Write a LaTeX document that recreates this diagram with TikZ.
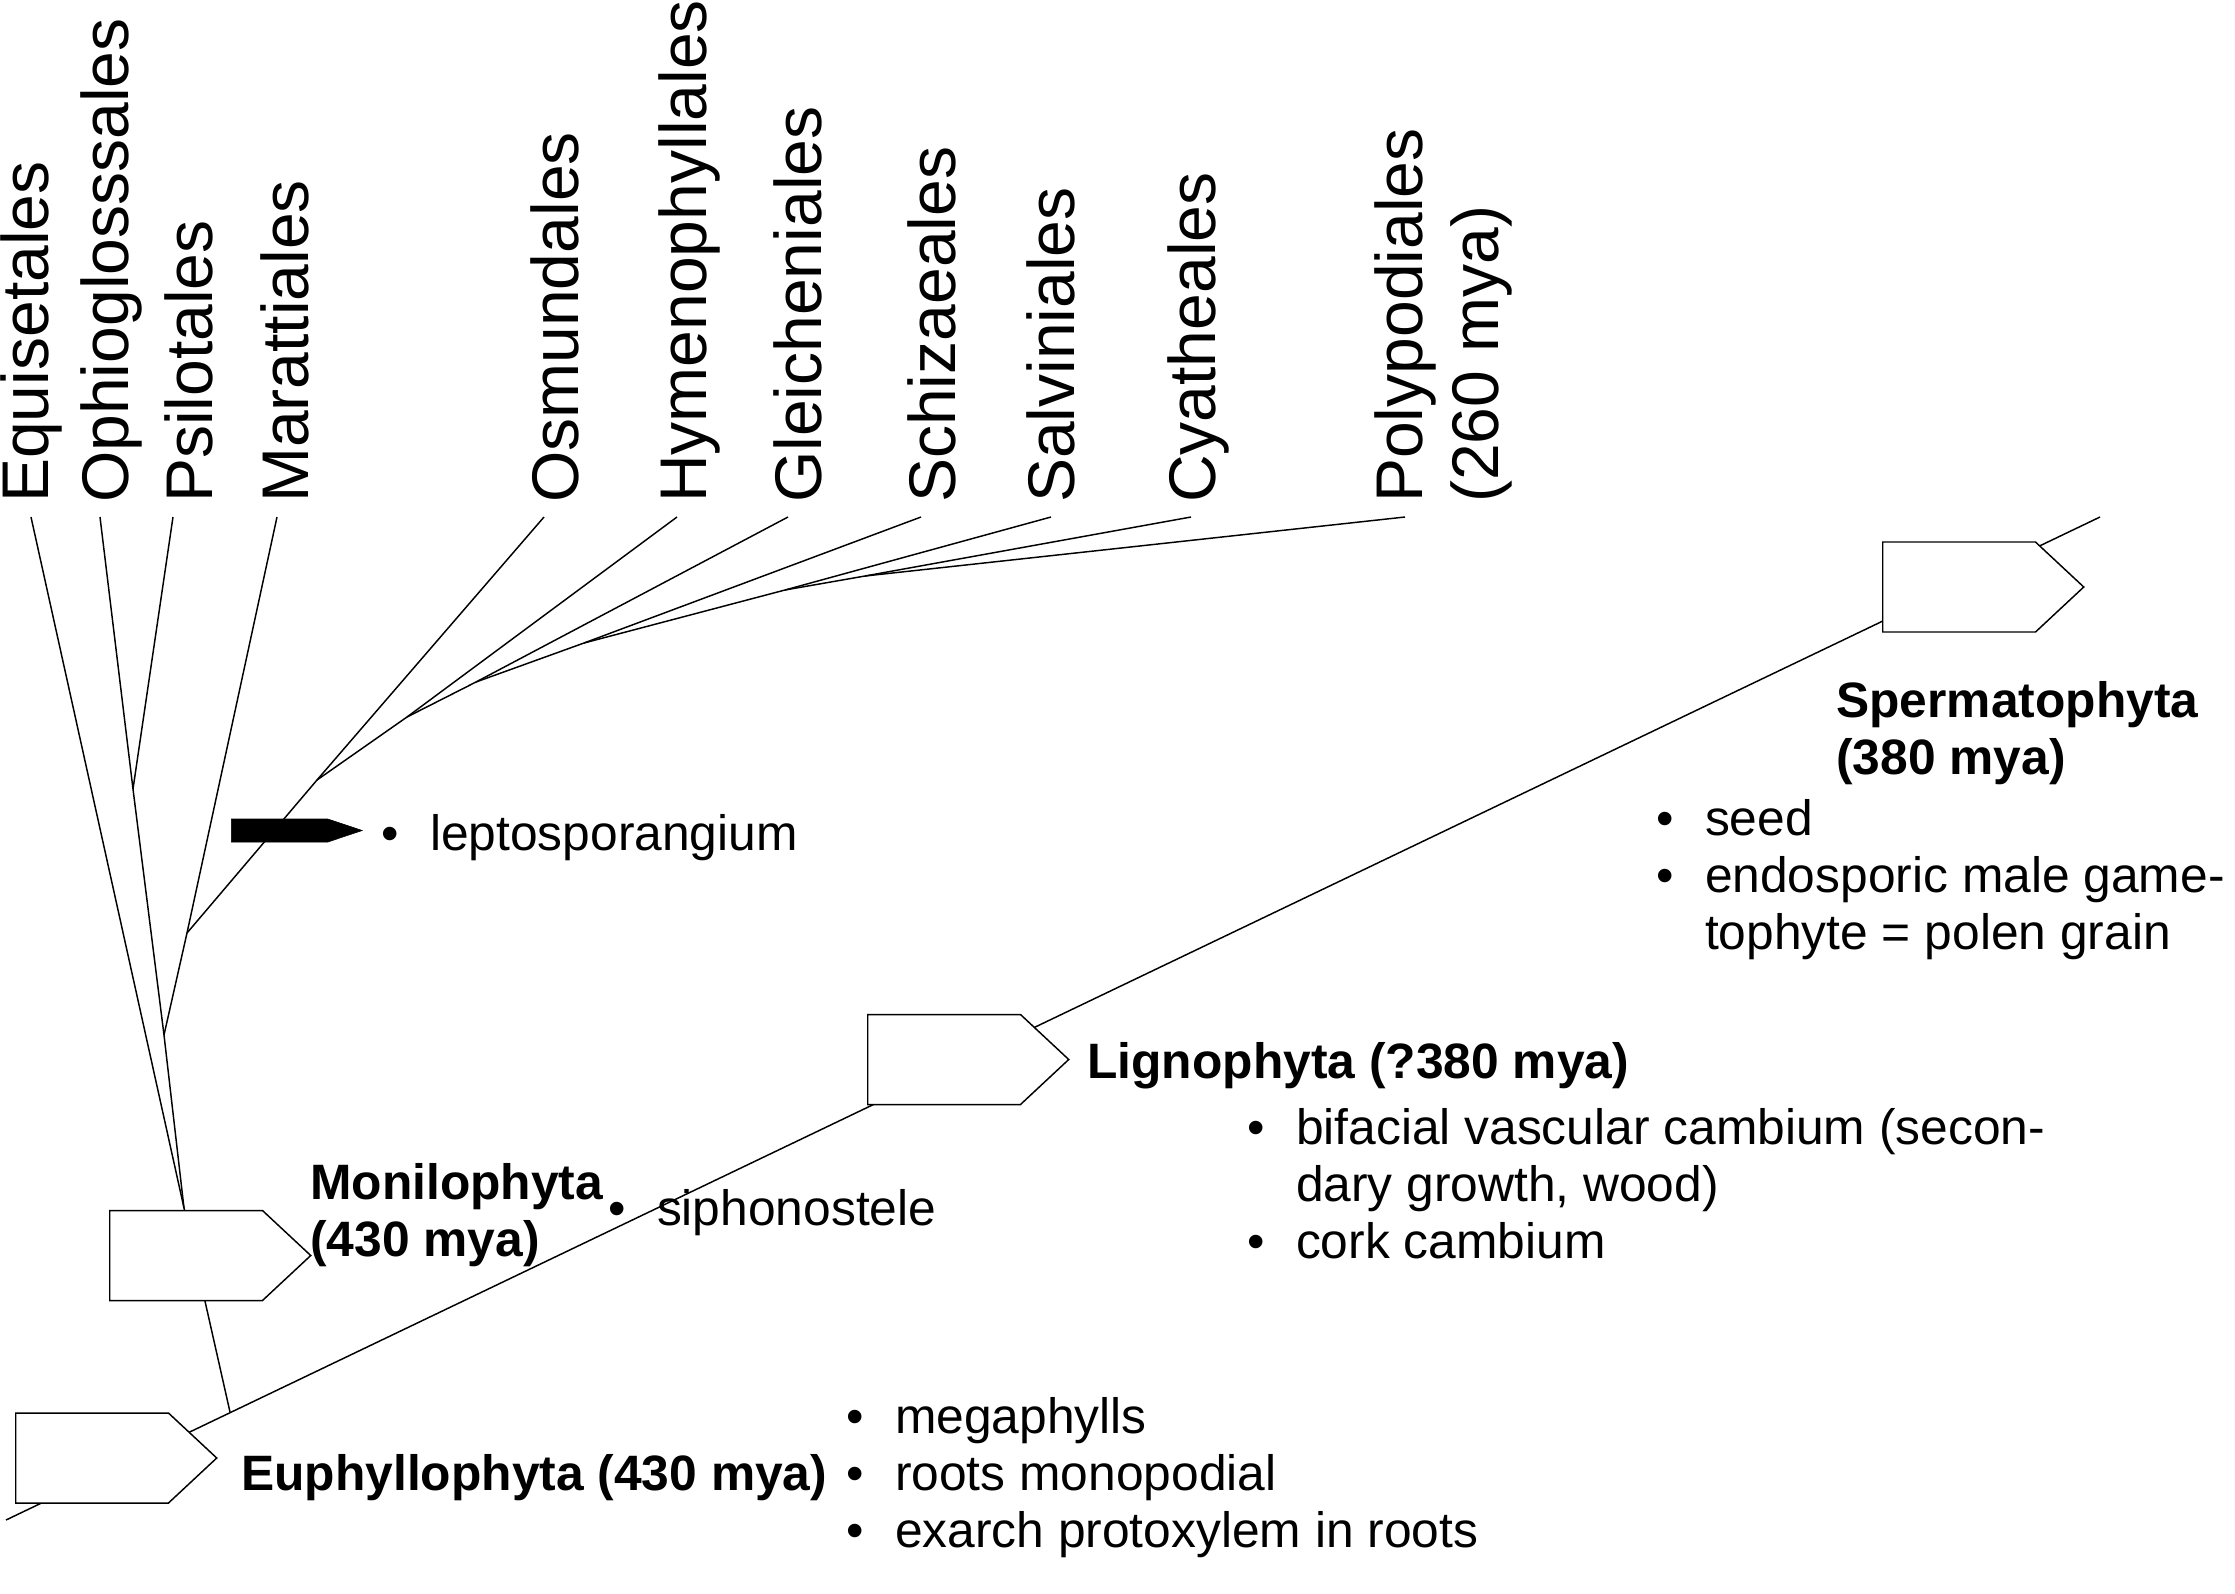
\documentclass[tikz,border=0pt]{standalone}
\usepackage{fontspec}
\setmainfont{Liberation Sans}
\usetikzlibrary{shapes.symbols}

\newcommand{\txtfont}{\fontsize{37.3}{42.75}\selectfont}
\newcommand{\taxfont}{\fontsize{49.5}{57}\selectfont}
\newcommand{\traitlist}[1]{\begin{tabular}[t]{@{}l@{\hspace{23.5pt}}l@{}}#1\end{tabular}}
\newcommand{\twolines}[2]{\begin{tabular}[t]{@{}l@{}}#1\\#2\end{tabular}}

\tikzset{
  branch/.style={line width=1.1pt},
  clade/.style={draw, fill=white, line width=1.1pt, shape=signal, signal to=east,
    signal pointer angle=86, minimum width=150.75pt, minimum height=67.5pt,
    inner sep=0pt, anchor=west},
  apomorphy/.style={draw, fill=black, shape=signal, signal to=east,
    signal pointer angle=37, minimum width=98.25pt, minimum height=17.25pt,
    inner sep=0pt, anchor=west},
  taxon/.style={rotate=90, anchor=base west, inner sep=0pt, font=\taxfont},
  cladename/.style={anchor=base west, inner sep=0pt, font=\txtfont\bfseries},
  traits/.style={anchor=base west, inner sep=0pt, font=\txtfont},
}

\begin{document}
\begin{tikzpicture}[x=0.75pt,y=0.75pt,yscale=-1,xscale=1]
\useasboundingbox (0,0) rectangle (2235,1593);

% junctions
\coordinate (root) at (6,1520);
\coordinate (euJ) at (230,1412);
\coordinate (spTop) at (2100,517);
\coordinate (moJ) at (184,1208);
\coordinate (aJ) at (164,1035);
\coordinate (bJ) at (133,789);
\coordinate (cJ) at (187,933);
\coordinate (dJ) at (317,780);
\coordinate (eJ) at (407,717);
\coordinate (fJ) at (476,682);
\coordinate (gJ) at (584,643);
\coordinate (hJ) at (785,590);
\coordinate (iJ) at (865,576);
% branch tips
\coordinate (equTip) at (31,517);
\coordinate (ophTip) at (100,517);
\coordinate (psiTip) at (173,517);
\coordinate (marTip) at (277,517);
\coordinate (osmTip) at (544,517);
\coordinate (hymTip) at (677,517);
\coordinate (gleTip) at (788,517);
\coordinate (schTip) at (921,517);
\coordinate (salTip) at (1051,517);
\coordinate (cyaTip) at (1191,517);
\coordinate (polTip) at (1405,517);

%Straight Lines
\draw[branch] (root) -- (spTop);
\draw[branch] (euJ) -- (moJ) -- (equTip);
\draw[branch] (moJ) -- (aJ) -- (bJ) -- (ophTip);
\draw[branch] (bJ) -- (psiTip);
\draw[branch] (aJ) -- (cJ) -- (marTip);
\draw[branch] (cJ) -- (dJ) -- (osmTip);
\draw[branch] (dJ) -- (eJ) -- (hymTip);
\draw[branch] (eJ) -- (fJ) -- (gleTip);
\draw[branch] (fJ) -- (gJ) -- (schTip);
\draw[branch] (gJ) -- (hJ) -- (salTip);
\draw[branch] (hJ) -- (iJ) -- (cyaTip);
\draw[branch] (iJ) -- (polTip);

%Shape: Pentagons
\node[clade] (euph) at (15,1458) {};
\node[clade] (moni) at (109,1255.5) {};
\node[clade] (ligno) at (867,1059.5) {};
\node[clade] (sperm) at (1882,587) {};
\node[apomorphy] (lepto) at (231,830.5) {};

% Taxon names
\node[taxon] (equ) at (48,503) {Equisetales};
\node[taxon] (oph) at (128,503) {Ophioglosssales};
\node[taxon] (psi) at (212,503) {Psilotales};
\node[taxon] (mar) at (308,503) {Marattiales};
\node[taxon] (osm) at (578,503) {Osmundales};
\node[taxon] (hym) at (706,503) {Hymenophyllales};
\node[taxon] (gle) at (821,503) {Gleicheniales};
\node[taxon] (sch) at (955,503) {Schizaeales};
\node[taxon] (sal) at (1074,503) {Salviniales};
\node[taxon] (cya) at (1215,503) {Cyatheales};
\node[taxon] (pol) at (1422,503) {\twolines{Polypodiales}{(260 mya)}};

% Clade names
\node[cladename] (euphtxt) at (241,1490) {Euphyllophyta (430 mya)};
\node[cladename] (monitxt) at (310,1199) {\twolines{Monilophyta}{(430 mya)}};
\node[cladename] (lignotxt) at (1087,1078) {Lignophyta (?380 mya)};
\node[cladename] (spermtxt) at (1836,717) {\twolines{Spermatophyta}{(380 mya)}};

% Characters
\node[traits] (leptotr) at (381,850) {\traitlist{\textbullet & leptosporangium}};
\node[traits] (monitr) at (608,1225) {\traitlist{\textbullet & siphonostele}};
\node[traits] (euphtr) at (846,1433) {\traitlist{\textbullet & megaphylls\\
  \textbullet & roots monopodial\\ \textbullet & exarch protoxylem in roots}};
\node[traits] (lignotr) at (1247,1144) {\traitlist{\textbullet & bifacial vascular cambium (secon-\\
  & dary growth, wood)\\ \textbullet & cork cambium}};
\node[traits] (spermtr) at (1656,835) {\traitlist{\textbullet & seed\\
  \textbullet & endosporic male game-\\ & tophyte = polen grain}};

\end{tikzpicture}
\end{document}
